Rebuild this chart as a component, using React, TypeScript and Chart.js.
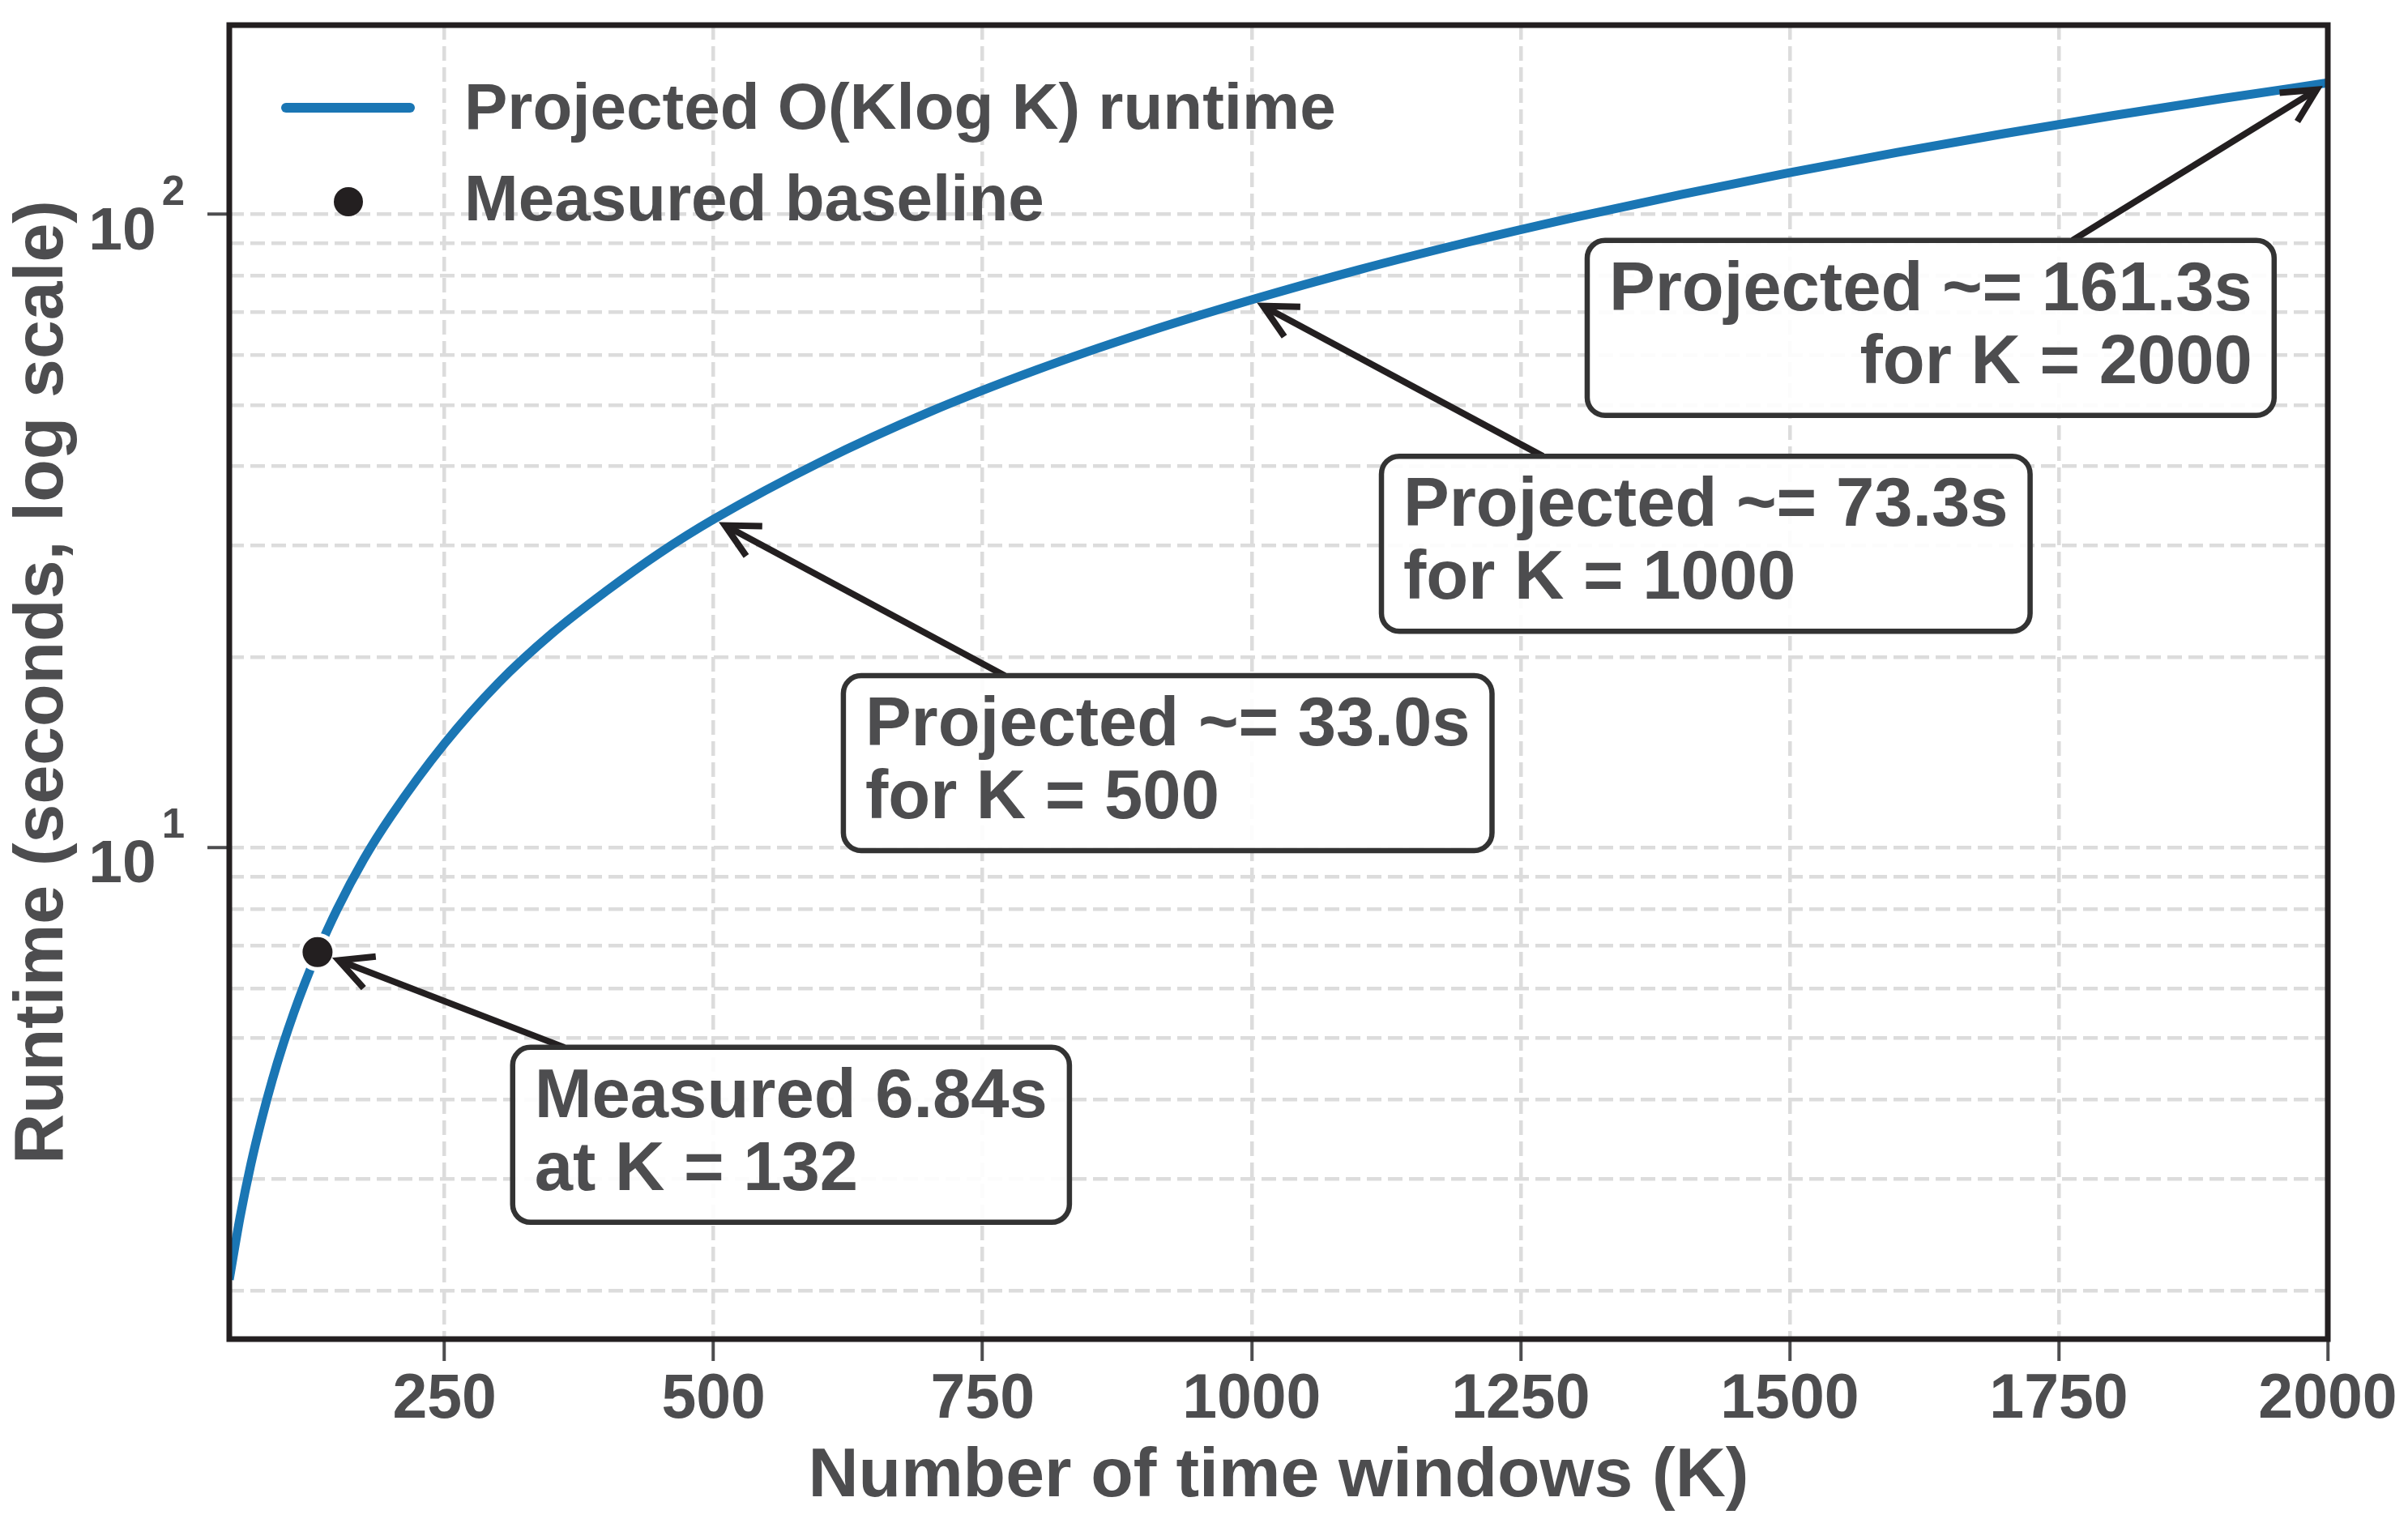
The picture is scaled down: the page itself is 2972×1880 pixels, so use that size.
import React, { useEffect, useRef } from 'react';
import { Chart, registerables } from 'chart.js';

Chart.register(...registerables);

// ---------- data ----------
const windowsK = [50, 60, 70, 80, 90, 100, 110, 120, 132, 150, 175, 200, 250, 300, 350, 400, 450, 500, 600, 700, 800, 900, 1000, 1100, 1200, 1300, 1400, 1500, 1600, 1700, 1800, 1900, 2000];
const projectedSeconds = [2.08, 2.61, 3.16, 3.72, 4.3, 4.89, 5.49, 6.1, 6.84, 7.98, 9.59, 11.2, 14.6, 18.2, 21.8, 25.4, 29.2, 33.0, 40.7, 48.7, 56.8, 65.0, 73.3, 81.8, 90.3, 98.9, 107.6, 116.4, 125.3, 134.2, 143.2, 152.2, 161.3];
const measuredK = [132];
const measuredSeconds = [6.84];

const xTickValues = [250, 500, 750, 1000, 1250, 1500, 1750, 2000];
const yMajorTicks = [10, 100];
const yMinorTicks = [2, 3, 4, 5, 6, 7, 8, 9, 20, 30, 40, 50, 60, 70, 80, 90];

const annotationTexts = [
  ['Measured 6.84s', 'at K = 132'],
  ['Projected ~= 33.0s', 'for K = 500'],
  ['Projected ~= 73.3s', 'for K = 1000'],
  ['Projected ~= 161.3s', 'for K = 2000'],
];
const annotationTargetK = [132, 500, 1000, 2000];
const annotationTargetSeconds = [6.84, 33.0, 73.3, 161.3];
const annotationBoxK = [572, 922, 1422, 1631];
const annotationBoxSeconds = [3.52, 13.6, 30.2, 66.2];
const annotationAlign = ['left', 'left', 'left', 'right'];

const seriesLabels = ['Projected O(Klog K) runtime', 'Measured baseline'];

// ---------- style ----------
const FONT = "'Liberation Sans', Arial, Helvetica, sans-serif";
const TEXT = '#4d4d4f';
const FRAME = '#231f20';
const LINE_BLUE = '#1a76b4';
const GRID = '#dcdcdc';

const customDraw = {
  id: 'customDraw',
  afterDraw(chart: any) {
    const { ctx, chartArea, scales } = chart;
    const xs = scales.x;
    const ys = scales.y;
    const L = chartArea.left;
    const T = chartArea.top;

    // frame
    ctx.save();
    ctx.strokeStyle = FRAME;
    ctx.lineWidth = 7;
    ctx.lineJoin = 'miter';
    ctx.strokeRect(chartArea.left, chartArea.top, chartArea.right - chartArea.left, chartArea.bottom - chartArea.top);
    ctx.restore();

    // y tick labels: 10^k
    ctx.save();
    ctx.fillStyle = TEXT;
    ctx.textBaseline = 'alphabetic';
    yMajorTicks.forEach((v) => {
      const py = ys.getPixelForValue(v);
      const exp = String(Math.round(Math.log10(v)));
      const rightEdge = L - 55;
      ctx.font = `bold 51px ${FONT}`;
      const ew = ctx.measureText(exp).width;
      ctx.textAlign = 'left';
      ctx.fillText(exp, rightEdge - ew, py - 12);
      ctx.font = `bold 75px ${FONT}`;
      ctx.textAlign = 'right';
      ctx.fillText('10', rightEdge - ew - 7, py + 43);
    });
    ctx.restore();

    // annotations
    ctx.save();
    ctx.font = `bold 85px ${FONT}`;
    annotationTexts.forEach((lines, i) => {
      const cx = xs.getPixelForValue(annotationBoxK[i]);
      const cy = ys.getPixelForValue(annotationBoxSeconds[i]);
      const textW = Math.max(...lines.map((l) => ctx.measureText(l).width));
      const pad = 27;
      const w = textW + 2 * pad;
      const h = 216;
      const left = cx - w / 2;
      const top = cy - h / 2;
      const tx = xs.getPixelForValue(annotationTargetK[i]);
      const ty = ys.getPixelForValue(annotationTargetSeconds[i]);
      const dx = tx - cx;
      const dy = ty - cy;
      const len = Math.hypot(dx, dy);
      const ux = dx / len;
      const uy = dy / len;
      const tX = dx !== 0 ? Math.abs(w / 2 / dx) : Infinity;
      const tY = dy !== 0 ? Math.abs(h / 2 / dy) : Infinity;
      const tExit = Math.min(tX, tY);
      const sx = cx + dx * tExit;
      const sy = cy + dy * tExit;
      const shrink = i === 0 ? 28 : 16;
      const ex = tx - ux * shrink;
      const ey = ty - uy * shrink;
      ctx.strokeStyle = FRAME;
      ctx.lineWidth = 8;
      ctx.lineCap = 'butt';
      ctx.lineJoin = 'miter';
      ctx.beginPath();
      ctx.moveTo(sx, sy);
      ctx.lineTo(ex, ey);
      ctx.stroke();
      const hl = 46;
      const ang = (27 * Math.PI) / 180;
      const bx = -ux;
      const by = -uy;
      const rot = (a: number) => [bx * Math.cos(a) - by * Math.sin(a), bx * Math.sin(a) + by * Math.cos(a)];
      const [a1x, a1y] = rot(ang);
      const [a2x, a2y] = rot(-ang);
      ctx.beginPath();
      ctx.moveTo(ex + a1x * hl, ey + a1y * hl);
      ctx.lineTo(ex, ey);
      ctx.lineTo(ex + a2x * hl, ey + a2y * hl);
      ctx.stroke();

      // box
      ctx.beginPath();
      (ctx as any).roundRect(left, top, w, h, 22);
      ctx.fillStyle = 'rgba(255,255,255,0.9)';
      ctx.fill();
      ctx.strokeStyle = '#333333';
      ctx.lineWidth = 6.5;
      ctx.stroke();

      ctx.fillStyle = TEXT;
      ctx.textBaseline = 'alphabetic';
      const align = annotationAlign[i];
      ctx.textAlign = align === 'right' ? 'right' : 'left';
      const textX = align === 'right' ? left + w - pad : left + pad;
      lines.forEach((line, j) => {
        ctx.fillText(line, textX, top + 86 + j * 90);
      });
    });
    ctx.restore();

    // legend
    ctx.save();
    const lineDs = chart.data.datasets[1];
    const ptDs = chart.data.datasets[0];
    ctx.strokeStyle = lineDs.borderColor;
    ctx.lineWidth = 12;
    ctx.lineCap = 'round';
    ctx.beginPath();
    ctx.moveTo(L + 70, T + 102);
    ctx.lineTo(L + 223, T + 102);
    ctx.stroke();
    ctx.fillStyle = ptDs.backgroundColor;
    ctx.beginPath();
    ctx.arc(L + 147, T + 218, 18, 0, Math.PI * 2);
    ctx.fill();
    ctx.fillStyle = TEXT;
    ctx.font = `bold 80px ${FONT}`;
    ctx.textAlign = 'left';
    ctx.textBaseline = 'alphabetic';
    ctx.fillText(lineDs.label, L + 290, T + 128);
    ctx.fillText(ptDs.label, L + 290, T + 241);
    ctx.restore();
  },
};

export default function App() {
  const ref = useRef<HTMLCanvasElement>(null);
  useEffect(() => {
    if (!ref.current) return;
    const chart = new Chart(ref.current, {
      type: 'line',
      data: {
        datasets: [
          {
            type: 'scatter',
            label: seriesLabels[1],
            data: measuredK.map((k, i) => ({ x: k, y: measuredSeconds[i] })),
            backgroundColor: FRAME,
            borderColor: '#ffffff',
            borderWidth: 5,
            pointRadius: 21,
            pointHoverRadius: 21,
            showLine: false,
            order: 0,
          } as any,
          {
            type: 'line',
            label: seriesLabels[0],
            data: windowsK.map((k, i) => ({ x: k, y: projectedSeconds[i] })),
            borderColor: LINE_BLUE,
            borderWidth: 11,
            pointRadius: 0,
            cubicInterpolationMode: 'monotone',
            fill: false,
            order: 1,
          } as any,
        ],
      },
      options: {
        animation: false,
        responsive: false,
        maintainAspectRatio: false,
        devicePixelRatio: 1,
        events: [],
        layout: { padding: { top: 31, right: 99, left: 0, bottom: 0 } },
        plugins: { legend: { display: false }, tooltip: { enabled: false } },
        scales: {
          x: {
            type: 'linear',
            min: 50,
            max: 2000,
            afterBuildTicks: (s: any) => {
              s.ticks = xTickValues.map((v) => ({ value: v }));
            },
            afterFit: (s: any) => {
              s.height = 227;
            },
            ticks: {
              autoSkip: false,
              maxRotation: 0,
              padding: 3,
              color: TEXT,
              font: { family: FONT, size: 77, weight: 'bold', lineHeight: 1.2 },
              callback: (v: any) => String(v),
            },
            grid: {
              color: GRID,
              lineWidth: 4.5,
              tickLength: 27,
              tickColor: TEXT,
              tickWidth: 4,
              tickBorderDash: [],
            } as any,
            border: { display: false, dash: [18, 8] },
            title: {
              display: true,
              text: 'Number of time windows (K)',
              color: TEXT,
              font: { family: FONT, size: 86, weight: 'bold', lineHeight: 1.2 },
              padding: { top: 0, bottom: 5 },
            },
          },
          y: {
            type: 'logarithmic',
            min: 1.675,
            max: 199,
            afterBuildTicks: (s: any) => {
              s.ticks = [...yMinorTicks, ...yMajorTicks]
                .sort((a, b) => a - b)
                .map((v) => ({ value: v, major: yMajorTicks.includes(v) }));
            },
            afterFit: (s: any) => {
              s.width = 283;
            },
            ticks: {
              autoSkip: false,
              callback: () => '',
              font: { family: FONT, size: 1, lineHeight: 1 },
            },
            grid: {
              color: GRID,
              lineWidth: 4.5,
              tickLength: 27,
              tickColor: (c: any) => (c.tick && yMajorTicks.includes(c.tick.value) ? TEXT : 'rgba(0,0,0,0)'),
              tickWidth: 4,
              tickBorderDash: [],
            } as any,
            border: { display: false, dash: [18, 8] },
            title: {
              display: true,
              text: 'Runtime (seconds, log scale)',
              color: TEXT,
              font: { family: FONT, size: 86, weight: 'bold', lineHeight: 1.2 },
              padding: { top: 2, bottom: 0 },
            },
          },
        },
      } as any,
      plugins: [customDraw],
    });
    return () => chart.destroy();
  }, []);
  return (
    <canvas
      ref={ref}
      width={2972}
      height={1880}
      style={{ position: 'fixed', left: 0, top: 0, width: '2972px', height: '1880px', background: '#ffffff' }}
    />
  );
}
